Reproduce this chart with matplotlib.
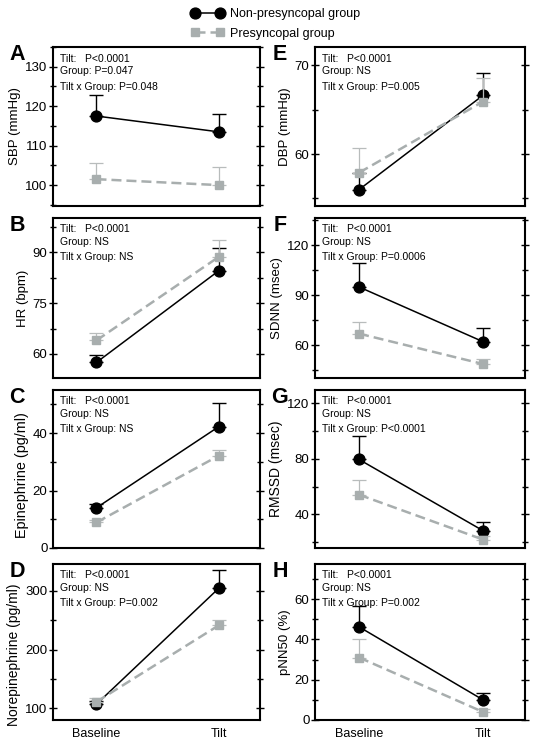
#!/usr/bin/env python3
# -*- coding: utf-8 -*-

"""
Haemodynamic / catecholamine / HRV responses to tilt, two groups, 8 panels.
"""

import matplotlib
matplotlib.use('Agg')
from matplotlib import pyplot as plt
from matplotlib.lines import Line2D
from matplotlib.ticker import MultipleLocator

plt.rcParams['font.family'] = ['Liberation Sans', 'DejaVu Sans']

# DATA ######################################################################

conditions = ['Baseline', 'Tilt']
group_names = ['Non-presyncopal group', 'Presyncopal group']

panel_letters = ['A', 'B', 'C', 'D', 'E', 'F', 'G', 'H']
ylabels = ['SBP (mmHg)', 'HR (bpm)', 'Epinephrine (pg/ml)', 'Norepinephrine (pg/ml)',
           'DBP (mmHg)', 'SDNN (msec)', 'RMSSD (msec)', 'pNN50 (%)']

stats_tilt = ['P<0.0001'] * 8
stats_group = ['P=0.047', 'NS', 'NS', 'NS', 'NS', 'NS', 'NS', 'NS']
stats_inter = ['P=0.048', 'NS', 'NS', 'P=0.002', 'P=0.005', 'P=0.0006', 'P<0.0001', 'P=0.002']

# non-presyncopal: mean and SEM (upper bar only)
non_mean = [[117.5, 113.5], [57.5, 84.5], [14.0, 42.2], [107, 304],
            [56.0, 66.6], [94.8, 62.0], [79.5, 28.2], [46.2, 10.0]]
non_sem = [[5.4, 4.4], [2.3, 6.8], [1.2, 8.3], [5, 31],
           [1.9, 2.5], [14.5, 8.5], [16.8, 5.9], [10.2, 3.6]]

# presyncopal
pre_mean = [[101.5, 100.0], [64.0, 88.6], [8.9, 32.1], [111, 241],
            [57.9, 65.9], [66.8, 48.6], [54.1, 21.8], [31.0, 4.0]]
pre_sem = [[4.2, 4.5], [2.3, 5.0], [0.8, 2.0], [7, 10],
           [2.8, 2.7], [6.8, 2.8], [10.6, 2.5], [9.2, 1.5]]

# axis ranges / ticks
ylims = [(94.7, 135), (52.9, 100.1), (0, 55), (80, 345.6),
         (54.15, 72.04), (40.2, 136.2), (15.7, 129.6), (0, 77.4)]
major_steps = [10, 15, 20, 100, 10, 30, 40, 20]
ylabel_sizes = [9.5, 9.5, 10.4, 10, 9.5, 9.5, 10, 9.5]
ylabel_pos = [0.5, 0.5, 0.46, 0.42, 0.5, 0.5, 0.5, 0.5]

# LAYOUT ####################################################################

W, H = 537, 748
col_x = [(53, 260), (315, 525)]
row_y = [(47, 206), (218, 378), (390, 548), (564, 720)]
letter_x = [17, 280]

GRAY = '#a8aeae'
GRAY_ERR = '#b8bcbc'

fig = plt.figure(figsize=(W / 100, H / 100), dpi=100)

for i in range(8):
    col, row = divmod(i, 4)
    x0, x1 = col_x[col]
    y0, y1 = row_y[row]
    ax = fig.add_axes([x0 / W, 1 - y1 / H, (x1 - x0) / W, (y1 - y0) / H])

    xs = [0, 1]
    ax.errorbar(xs, non_mean[i], yerr=[[0, 0], non_sem[i]], color='black',
                lw=1.1, marker='o', ms=7.8, capsize=5, elinewidth=1.0,
                capthick=1.0, zorder=3)
    ax.errorbar(xs, pre_mean[i], yerr=[[0, 0], pre_sem[i]], color=GRAY,
                ecolor=GRAY_ERR, lw=1.8, ls=(0, (4, 2)), marker='s', ms=6,
                capsize=5, elinewidth=0.9, capthick=0.9, zorder=4)

    ax.set_xlim(-0.356, 1.339)
    ax.set_ylim(*ylims[i])
    ax.yaxis.set_major_locator(MultipleLocator(major_steps[i]))
    ax.yaxis.set_minor_locator(MultipleLocator(major_steps[i] / 2))
    ax.tick_params(axis='y', which='both', direction='inout', left=True,
                   right=True, labelsize=9.5, pad=1)
    ax.tick_params(axis='y', which='major', length=6, width=1)
    ax.tick_params(axis='y', which='minor', length=4, width=1)
    ax.set_xticks(xs)
    ax.tick_params(axis='x', length=0, labelsize=9, pad=6)
    if row == 3:
        ax.set_xticklabels(conditions)
    else:
        ax.set_xticklabels([])
    for sp in ax.spines.values():
        sp.set_linewidth(1.5)
    ax.set_ylabel(ylabels[i], fontsize=ylabel_sizes[i], labelpad=3)
    ax.yaxis.label.set_y(ylabel_pos[i])

    # stats text
    ph = y1 - y0
    ax.text(0.035, 1 - 11.5 / ph, 'Tilt:   ' + stats_tilt[i], transform=ax.transAxes,
            fontsize=7.5, va='center')
    ax.text(0.035, 1 - 24 / ph, 'Group: ' + stats_group[i], transform=ax.transAxes,
            fontsize=7.5, va='center')
    ax.text(0.035, 1 - 39.5 / ph, 'Tilt x Group: ' + stats_inter[i],
            transform=ax.transAxes, fontsize=7.5, va='center')

    fig.text(letter_x[col] / W, 1 - (y0 - 3) / H, panel_letters[i],
             fontsize=15.5, fontweight='bold', ha='center', va='top')

# LEGEND ####################################################################

handles = [Line2D([], [], color='black', lw=1.1, marker='o', ms=7.8),
           Line2D([], [], color=GRAY, lw=1.8, ls=(0, (4, 2)), marker='s', ms=6)]
fig.legend(handles, group_names, loc='upper center', bbox_to_anchor=(0.513, 1.004),
           frameon=False, numpoints=2, handlelength=2.6, handletextpad=0.5,
           fontsize=9, labelspacing=0.6)

fig.savefig('out.png', dpi=100)
